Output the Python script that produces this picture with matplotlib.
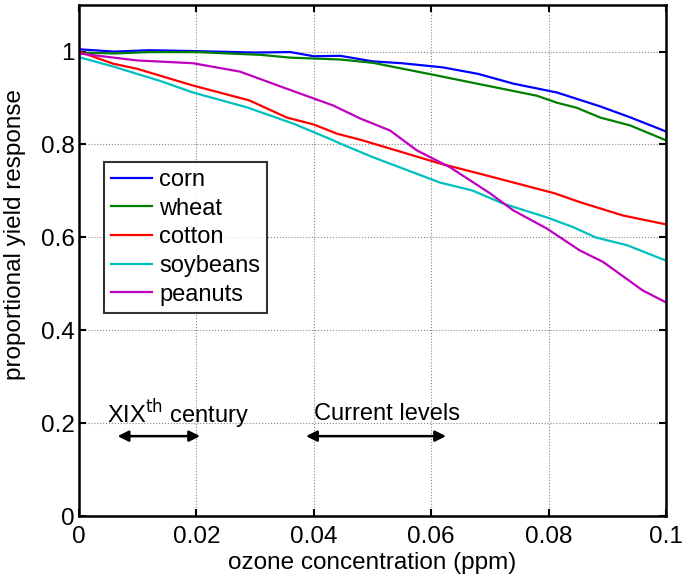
import matplotlib.pyplot as plt

plt.rcParams["font.family"] = ["Liberation Sans", "DejaVu Sans"]

# ozone concentration (ppm) and proportional yield for each crop
corn_x = [0.0, 0.006, 0.012, 0.02, 0.03, 0.036, 0.04, 0.0445, 0.05, 0.055, 0.062, 0.068, 0.074, 0.0814, 0.0888, 0.094, 0.1]
corn_y = [1.005, 1.0, 1.003, 1.001, 0.998, 0.999, 0.99, 0.991, 0.979, 0.975, 0.966, 0.952, 0.931, 0.912, 0.882, 0.858, 0.828]

wheat_x = [0.0, 0.006, 0.012, 0.02, 0.031, 0.036, 0.0445, 0.05, 0.06, 0.0729, 0.078, 0.0814, 0.0848, 0.0888, 0.0939, 0.1]
wheat_y = [0.998, 0.996, 0.999, 0.999, 0.993, 0.987, 0.983, 0.976, 0.951, 0.918, 0.905, 0.89, 0.879, 0.858, 0.841, 0.809]

cotton_x = [0.0, 0.0058, 0.0099, 0.0194, 0.029, 0.0354, 0.04, 0.044, 0.048, 0.0615, 0.0683, 0.081, 0.0853, 0.0927, 0.1]
cotton_y = [1.0, 0.974, 0.963, 0.927, 0.895, 0.858, 0.843, 0.823, 0.81, 0.759, 0.737, 0.695, 0.676, 0.647, 0.628]

soy_x = [0.0, 0.0058, 0.0099, 0.0138, 0.0194, 0.0286, 0.0365, 0.0433, 0.0445, 0.05, 0.0615, 0.067, 0.0722, 0.0797, 0.0842, 0.088, 0.0934, 0.1]
soy_y = [0.988, 0.968, 0.952, 0.937, 0.912, 0.88, 0.845, 0.809, 0.802, 0.773, 0.718, 0.701, 0.673, 0.643, 0.622, 0.6, 0.583, 0.55]

peanut_x = [0.0, 0.0099, 0.0194, 0.0274, 0.0354, 0.0433, 0.0479, 0.053, 0.0576, 0.0632, 0.07, 0.074, 0.0797, 0.0853, 0.0893, 0.096, 0.1]
peanut_y = [0.996, 0.981, 0.975, 0.957, 0.92, 0.884, 0.856, 0.83, 0.787, 0.751, 0.695, 0.658, 0.619, 0.572, 0.547, 0.486, 0.46]

crops = ["corn", "wheat", "cotton", "soybeans", "peanuts"]
colors = ["#0000ff", "#008000", "#ff0000", "#00bfbf", "#bf00bf"]

fig = plt.figure(figsize=(6.83, 5.74), dpi=100)
ax = fig.add_axes([0.1157, 0.101, 0.8594, 0.89])

series = [(corn_x, corn_y), (wheat_x, wheat_y), (cotton_x, cotton_y),
          (soy_x, soy_y), (peanut_x, peanut_y)]
for (x, y), name, c in zip(series, crops, colors):
    ax.plot(x, y, color=c, linewidth=1.6, label=name)

ax.set_xlim(0, 0.1)
ax.set_ylim(0, 1.1)
ax.set_xticks([0, 0.02, 0.04, 0.06, 0.08, 0.1])
ax.set_xticklabels(["0", "0.02", "0.04", "0.06", "0.08", "0.1"])
ax.set_yticks([0, 0.2, 0.4, 0.6, 0.8, 1.0])
ax.set_yticklabels(["0", "0.2", "0.4", "0.6", "0.8", "1"])
ax.tick_params(direction="in", top=True, right=True, labelsize=17.5, width=1.5, length=5)
ax.tick_params(axis="x", pad=7)
ax.tick_params(axis="y", pad=3)
ax.grid(True, color="#888888", linestyle=":", linewidth=0.8)
for s in ax.spines.values():
    s.set_linewidth(1.8)

ax.set_xlabel("ozone concentration (ppm)", fontsize=17.5, labelpad=3)
ax.set_ylabel("proportional yield response", fontsize=17.5, labelpad=0)
ax.yaxis.set_label_coords(-0.09, 0.552)

leg = ax.legend(loc="upper left", bbox_to_anchor=(0.042, 0.693), fontsize=17,
                frameon=True, fancybox=False, edgecolor="black", handlelength=1.75,
                borderpad=0.3, labelspacing=0.28, handletextpad=0.3,
                borderaxespad=0)
leg.get_frame().set_linewidth(1.5)

# reference ranges for ozone levels
arrow = dict(arrowstyle="<|-|>", color="black", lw=1.8, mutation_scale=16)
ax.annotate("", xy=(0.0061, 0.172), xytext=(0.0211, 0.172), arrowprops=arrow)
ax.annotate("", xy=(0.0382, 0.172), xytext=(0.063, 0.172), arrowprops=arrow)
ax.text(0.0169, 0.22, r"XIX$^{\mathrm{th}}$ century", fontsize=17, ha="center", va="center")
ax.text(0.0524, 0.22, "Current levels", fontsize=17, ha="center", va="center")

fig.savefig("out.png", dpi=100)
